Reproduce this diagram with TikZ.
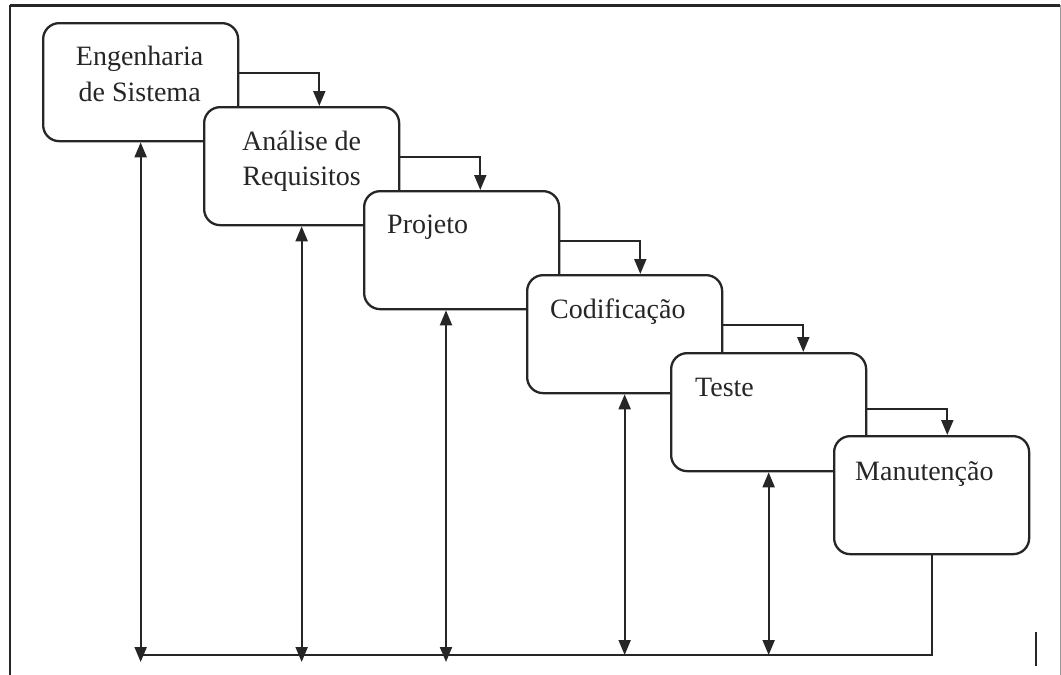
\documentclass[tikz,border=0pt]{standalone}
\usepackage{fontspec}
\setmainfont{Liberation Serif}
\usetikzlibrary{arrows.meta,calc}
\definecolor{ink}{gray}{0.15}
\begin{document}
\begin{tikzpicture}[x=1pt,y=-1pt,
  >={Triangle[width=12pt,length=15pt]},
  phase/.style={draw=ink, line width=2.3pt, fill=white, rounded corners=16pt,
    minimum width=195pt, minimum height=118pt, inner sep=0pt, anchor=north west},
  phasetext/.style={font=\fontsize{28}{33}\selectfont, inner sep=0pt, text=ink},
  flow/.style={draw=ink, line width=2pt, ->},
  back/.style={draw=ink, line width=2pt, <->},
  busline/.style={draw=ink, line width=2pt},
]
\useasboundingbox (0,0) rectangle (1061,675);

% outer frame
\draw[line width=3pt, draw=black!85] (10,5) -- (1060,5);
\draw[line width=2pt, draw=black!85] (10,5) -- (10,675);
\draw[line width=1pt, draw=black!40] (1060,5) -- (1060,675);

% the phases, each one drawn over the previous one
\node[phase] (b1) at (42,22) {};
\node[phase] (b2) at (203,106) {};
\node[phase] (b3) at (363,190) {};
\node[phase] (b4) at (526,274) {};
\node[phase] (b5) at (670,352) {};
\node[phase] (b6) at (833,435) {};

% phase names
\node[phasetext, anchor=base] (t1a) at ($(b1.north)+(-1,43)$) {Engenharia};
\node[phasetext, anchor=base] (t1b) at ($(b1.north)+(-1,79)$) {de Sistema};
\node[phasetext, anchor=base] (t2a) at ($(b2.north)+(0,44)$) {Análise de};
\node[phasetext, anchor=base] (t2b) at ($(b2.north)+(0,79)$) {Requisitos};
\node[phasetext, anchor=base west] (t3) at ($(b3.north west)+(24,43)$) {Projeto};
\node[phasetext, anchor=base west] (t4) at ($(b4.north west)+(24,44)$) {Codificação};
\node[phasetext, anchor=base west] (t5) at ($(b5.north west)+(25,44)$) {Teste};
\node[phasetext, anchor=base west] (t6) at ($(b6.north west)+(22,45)$) {Manutenção};

% forward flow from each phase to the next
\foreach \a/\b/\dy in {b1/b2/51,b2/b3/51,b3/b4/51,b4/b5/51,b5/b6/57}{
  \coordinate (k\a) at ($(\a.north east)+(80,\dy)$);
  \draw[flow] (\a.east |- k\a) -- (k\a) -- (k\a |- \b.north);
}

% feedback bus along the bottom
\coordinate (bus) at (0,655);
\coordinate (busl) at (0,662);
\coordinate (p3) at ($(b3.south west)+(83,0)$);
\draw[busline] (b6.south) |- (b1.south |- bus);
\draw[back] (b1.south) -- (b1.south |- busl);
\draw[back] (b2.south) -- (b2.south |- busl);
\draw[back] (p3) -- (p3 |- busl);
\draw[back] (b4.south) -- (b4.south |- bus);
\draw[back] (b5.south) -- (b5.south |- bus);

% small mark at the lower right
\draw[line width=2pt, draw=ink] (1036,632) -- (1036,666);
\end{tikzpicture}
\end{document}
